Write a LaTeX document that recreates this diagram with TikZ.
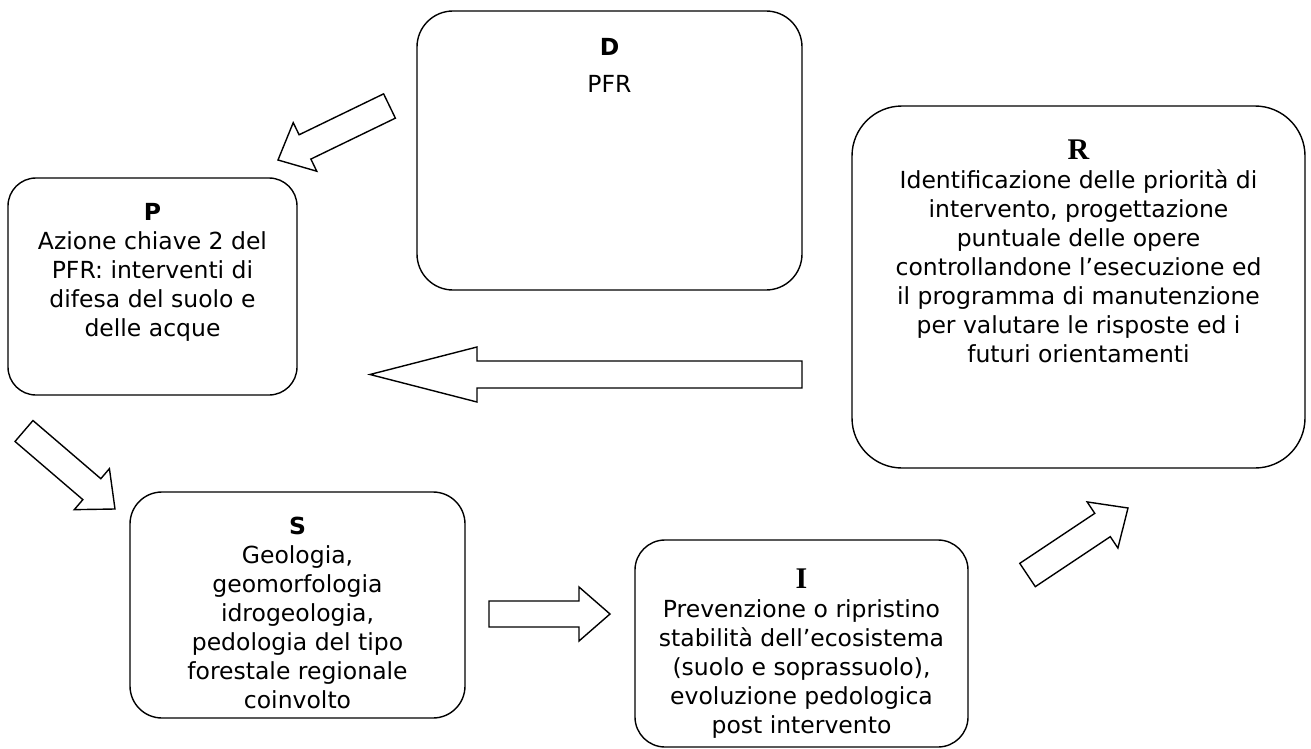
\documentclass[tikz,border=0pt]{standalone}
\usepackage{fontspec}
\setmainfont{DejaVu Sans}
\newfontfamily\titleserif{Liberation Serif}
\usetikzlibrary{calc}

% block arrow: tail, tip, shaft half-width, head half-width, head length
\newcommand\blockarrow[5]{%
  \coordinate (#1-base) at ($(#2)!#5!(#1)$);
  \draw[barrow] ($(#1)!#3!90:(#2)$) -- ($(#1-base)!#3!90:(#2)$)
    -- ($(#1-base)!#4!90:(#2)$) -- (#2) -- ($(#1-base)!#4!-90:(#2)$)
    -- ($(#1-base)!#3!-90:(#2)$) -- ($(#1)!#3!-90:(#2)$) -- cycle;
}

\begin{document}
\begin{tikzpicture}[x=1pt,y=1pt,
  box/.style={draw, line width=1.4pt, rounded corners=#1, inner sep=0pt},
  txt/.style={anchor=north, align=center, inner sep=0pt,
    font=\fontsize{23.5}{29}\selectfont},
  sertitle/.style={},
  barrow/.style={draw, line width=1.4pt, line join=miter, fill=white}]
\useasboundingbox (0,0) rectangle (1311,-749);

% boxes
\node[box=36pt, minimum width=385pt, minimum height=279pt] (D) at (609.5,-150.5) {};
\node[box=28pt, minimum width=289pt, minimum height=217pt] (P) at (152.5,-286.5) {};
\node[box=50pt, minimum width=453pt, minimum height=362pt] (R) at (1078.5,-287) {};
\node[box=32pt, minimum width=335pt, minimum height=226pt] (S) at (297.5,-605) {};
\node[box=30pt, minimum width=333pt, minimum height=207pt] (I) at (801.5,-643.5) {};

% texts
\node[txt] (Dt) at ([yshift=-25pt]D.north)
  {\rule{0pt}{20pt}\textbf{D}\\[8pt]PFR};
\node[txt] (Pt) at ([yshift=-23pt]P.north)
  {\rule{0pt}{20pt}\textbf{P}\\Azione chiave 2 del\\PFR: interventi di\\difesa del suolo e\\delle acque};
\node[txt] (Rt) at ([yshift=-34pt]R.north)
  {\rule{0pt}{20pt}{\titleserif\bfseries\fontsize{30}{29}\selectfont R}\\Identificazione delle priorità di\\intervento, progettazione\\puntuale delle opere\\controllandone l’esecuzione ed\\il programma di manutenzione\\per valutare le risposte ed i\\futuri orientamenti};
\node[txt] (St) at ([yshift=-23pt]S.north)
  {\rule{0pt}{20pt}\textbf{S}\\Geologia,\\geomorfologia\\idrogeologia,\\pedologia del tipo\\forestale regionale\\coinvolto};
\node[txt] (It) at ([yshift=-29pt]I.north)
  {\rule{0pt}{20pt}{\titleserif\bfseries\fontsize{30}{29}\selectfont I}\\Prevenzione o ripristino\\stabilità dell’ecosistema\\(suolo e soprassuolo),\\evoluzione pedologica\\post intervento};

% arrow end points
\coordinate (a1) at (389.5,-106);  \coordinate (a1tip) at (278,-160);
\coordinate (a2) at (802,-374.5);  \coordinate (a2tip) at (370,-374.5);
\coordinate (a3) at (24,-431);     \coordinate (a3tip) at (115,-509);
\coordinate (a4) at (489,-614);    \coordinate (a4tip) at (610,-614);
\coordinate (a5) at (1027.5,-575); \coordinate (a5tip) at (1128,-508);

\blockarrow{a1}{a1tip}{13.5pt}{27pt}{30pt}
\blockarrow{a2}{a2tip}{13.5pt}{27.5pt}{107pt}
\blockarrow{a3}{a3tip}{13.8pt}{27pt}{30.5pt}
\blockarrow{a4}{a4tip}{13pt}{27pt}{31pt}
\blockarrow{a5}{a5tip}{14pt}{27.7pt}{30.6pt}
\end{tikzpicture}
\end{document}
